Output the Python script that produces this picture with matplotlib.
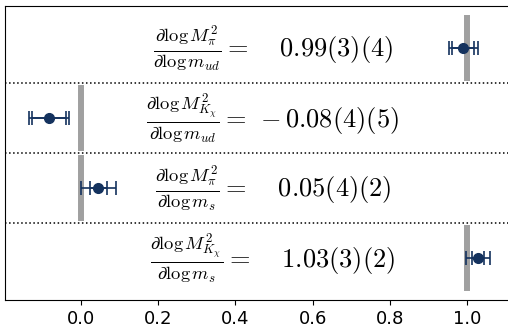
import matplotlib
matplotlib.use("Agg")
import matplotlib.pyplot as plt

plt.rcParams['mathtext.fontset'] = 'cm'

# filas de arriba hacia abajo
etiquetas = [
    r"$\frac{\partial\log M_\pi^2}{\partial\log m_{ud}} = \quad\, 0.99(3)(4)$",
    r"$\frac{\partial\log M_{K_\chi}^2}{\partial\log m_{ud}} = \;\, {-}\, 0.08(4)(5)$",
    r"$\frac{\partial\log M_\pi^2}{\partial\log m_{s}} = \quad\, 0.05(4)(2)$",
    r"$\frac{\partial\log M_{K_\chi}^2}{\partial\log m_{s}} = \quad\, 1.03(3)(2)$",
]
valores = [0.99, -0.083, 0.045, 1.028]
error_interno = [0.028, 0.043, 0.023, 0.016]
error_total = [0.038, 0.053, 0.045, 0.030]
referencia = [1.0, 0.0, 0.0, 1.0]
filas = [3, 2, 1, 0]

azul = '#14325e'

fig = plt.figure(figsize=(5.08, 3.30), dpi=100)
ax = fig.add_axes([5 / 508, 30 / 330, 505 / 508, 294 / 330])

for y, ref in zip(filas, referencia):
    ax.plot([ref, ref], [y - 0.435, y + 0.435], color='#a0a0a0', lw=4.3, zorder=1)

ax.errorbar(valores, filas, xerr=error_total, fmt='none', ecolor=azul,
            elinewidth=1.2, capsize=5, capthick=1.2, zorder=2)
ax.errorbar(valores, filas, xerr=error_interno, fmt='o', color=azul,
            ms=7, elinewidth=1.2, capsize=5, capthick=1.2, zorder=3)

# separadores punteados
for y in [0.5, 1.5, 2.5]:
    ax.axhline(y, color='black', ls=':', lw=1.1)

for y, texto in zip(filas, etiquetas):
    ax.text(0.497, y, texto, ha='center', va='center', fontsize=19)

ax.set_xlim(-0.197, 1.111)
ax.set_ylim(-0.6, 3.6)
ax.set_xticks([0.0, 0.2, 0.4, 0.6, 0.8, 1.0])
ax.tick_params(axis='x', labelsize=13)
ax.set_yticks([])

fig.savefig('out.png', dpi=100)
